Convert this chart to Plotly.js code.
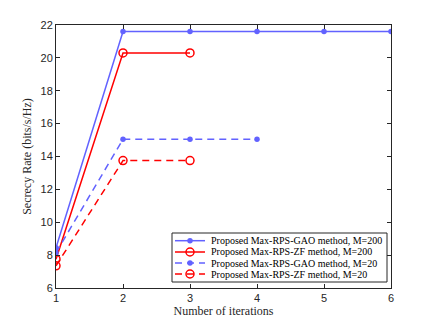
<!DOCTYPE html>
<html><head><meta charset="utf-8">
<script src="https://cdn.plot.ly/plotly-3.0.1.min.js"></script>
<style>body{margin:0;padding:0;background:#fff}</style>
</head><body>
<div id="chart" style="width:432px;height:324px"></div>
<script>
const xGao200 = [1, 2, 3, 4, 5, 6];
const yGao200 = [8.45, 21.6, 21.6, 21.6, 21.6, 21.6];
const xZf200 = [1, 2, 3];
const yZf200 = [7.75, 20.3, 20.3];
const xGao20 = [1, 2, 3, 4];
const yGao20 = [8.15, 15.05, 15.05, 15.05];
const xZf20 = [1, 2, 3];
const yZf20 = [7.35, 13.75, 13.75];
const names = [
  'Proposed Max-RPS-GAO method, M=200',
  'Proposed Max-RPS-ZF method, M=200',
  'Proposed Max-RPS-GAO method, M=20',
  'Proposed Max-RPS-ZF method, M=20'
];
const blue = '#6262ff', red = '#ff0000';
const dash = '7px,5px';
const styles = [
  {color: blue, dash: 'solid', open: false},
  {color: red, dash: 'solid', open: true},
  {color: blue, dash: dash, open: false},
  {color: red, dash: dash, open: true}
];
const xs = [xGao200, xZf200, xGao20, xZf20];
const ys = [yGao200, yZf200, yGao20, yZf20];
function markerFor(s) {
  return s.open
    ? {symbol: 'circle-open', size: 8, color: s.color, line: {width: 1.5, color: s.color}}
    : {symbol: 'circle', size: 5.5, color: s.color};
}
const traces = styles.map((s, i) => ({
  x: xs[i], y: ys[i], name: names[i], mode: 'lines+markers', showlegend: false,
  line: {color: s.color, width: 1.5, dash: s.dash}, marker: markerFor(s)
}));

// custom compact legend (paper coordinates)
const L = {x0: 172, x1: 387, y0: 233, y1: 282, rows: [240.7, 252, 263, 274]};
const plotL = 56, plotR = 391, plotT = 25, plotB = 288;
const px = v => (v - plotL) / (plotR - plotL);
const py = v => (plotB - v) / (plotB - plotT);
const shapes = [{type: 'rect', xref: 'paper', yref: 'paper',
  x0: px(L.x0), x1: px(L.x1), y0: py(L.y1), y1: py(L.y0),
  fillcolor: '#fff', line: {color: '#262626', width: 1}, layer: 'below'}];
const annotations = [];
styles.forEach((s, i) => {
  const yy = py(L.rows[i]);
  shapes.push({type: 'line', xref: 'paper', yref: 'paper', x0: px(175), x1: px(205), y0: yy, y1: yy,
    line: {color: s.color, width: 1.5, dash: s.dash}, layer: 'below'});
  annotations.push({xref: 'paper', yref: 'paper', x: px(209), y: yy, xanchor: 'left', yanchor: 'middle',
    text: names[i], showarrow: false,
    font: {family: 'Liberation Serif, Times New Roman, serif', size: 10, color: '#000'}});
});
// legend marker samples drawn as an overlaid trace on a hidden pixel-scaled axis
const legendMarkers = styles.map((s, i) => ({
  x: [190], y: [L.rows[i]], xaxis: 'x2', yaxis: 'y2', mode: 'markers', showlegend: false,
  hoverinfo: 'skip', marker: markerFor(s)
}));

const axisCommon = {
  showgrid: false, zeroline: false, showline: true, mirror: 'ticks',
  linecolor: '#262626', linewidth: 1, ticks: 'inside', ticklen: 4, tickcolor: '#262626',
  tickfont: {family: 'Liberation Sans, Arial, sans-serif', size: 11, color: '#262626'}
};
const titleFont = {family: 'Liberation Serif, Times New Roman, serif', size: 12, color: '#262626'};
const layout = {
  width: 432, height: 324,
  margin: {l: 56, r: 41, t: 25, b: 36},
  paper_bgcolor: '#fff', plot_bgcolor: 'rgba(0,0,0,0)',
  showlegend: false,
  xaxis: Object.assign({}, axisCommon, {range: [1, 6], dtick: 1, tick0: 1,
    title: {text: 'Number of iterations', standoff: 3, font: titleFont}}),
  yaxis: Object.assign({}, axisCommon, {range: [6, 22], dtick: 2,
    title: {text: 'Secrecy Rate (bits/s/Hz)', standoff: 6, font: titleFont}}),
  xaxis2: {overlaying: 'x', range: [plotL, plotR], visible: false, fixedrange: true},
  yaxis2: {overlaying: 'y', range: [plotB, plotT], visible: false, fixedrange: true},
  shapes: shapes,
  annotations: annotations
};
Plotly.newPlot('chart', traces.concat(legendMarkers), layout, {displayModeBar: false, staticPlot: true});
</script>
</body></html>
